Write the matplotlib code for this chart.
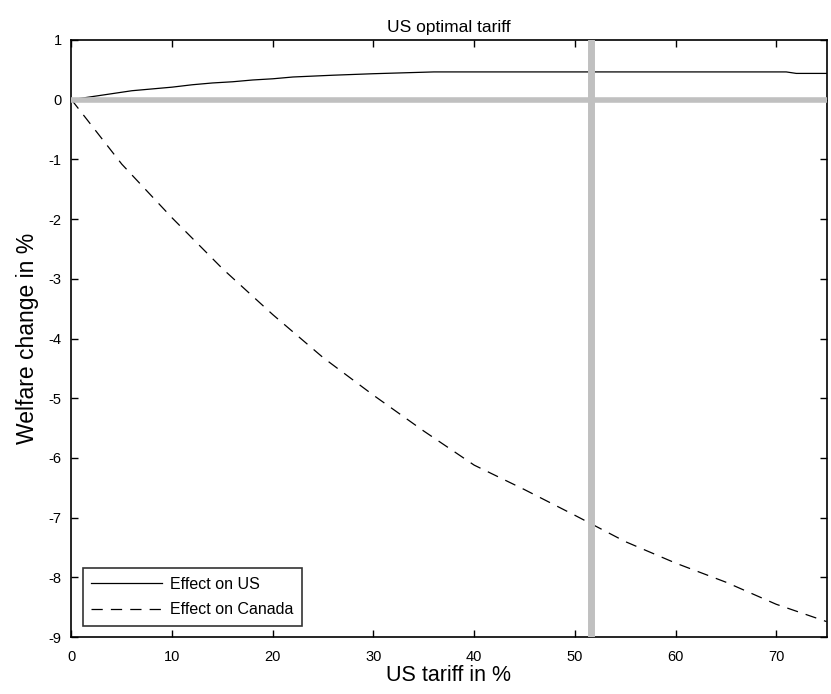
"""US optimal tariff: welfare effects on US and Canada vs. US tariff level."""
import matplotlib
matplotlib.use("Agg")
import matplotlib.pyplot as plt

plt.rcParams["font.family"] = ["Liberation Sans", "DejaVu Sans"]
plt.rcParams["axes.unicode_minus"] = False

# welfare change (%)
us_tariff = [0, 2, 4, 6, 8, 10, 12, 14, 16, 18, 20, 22, 26, 30, 36, 50, 60, 71, 72, 75]
effect_us = [0.0, 0.05, 0.10, 0.15, 0.18, 0.21, 0.25, 0.28, 0.30, 0.33, 0.35, 0.38,
             0.41, 0.435, 0.465, 0.465, 0.465, 0.465, 0.44, 0.44]

ca_tariff = [0, 5, 10, 15, 20, 25, 30, 35, 40, 45, 50, 55, 60, 65, 70, 75]
effect_canada = [0.0, -1.08, -1.98, -2.83, -3.60, -4.32, -4.95, -5.55, -6.12, -6.53,
                 -6.96, -7.40, -7.76, -8.08, -8.45, -8.74]

optimal_tariff = 51.6

fig = plt.figure(figsize=(8.31, 6.94), dpi=100)
ax = fig.add_axes([0.086, 0.082, 0.9086, 0.8604])

ax.plot(us_tariff, effect_us, color="black", lw=0.9, label="Effect on US")
ax.plot(ca_tariff, effect_canada, color="black", lw=0.9, ls=(0, (9, 6.5)),
        label="Effect on Canada")

# reference lines drawn over the curves
ax.axhline(0, color="#c0c0c0", lw=4, zorder=3)
ax.axvline(optimal_tariff, color="#c0c0c0", lw=5, zorder=3)

ax.set_xlim(0, 75)
ax.set_ylim(-9, 1)
ax.set_xticks(range(0, 80, 10))
ax.set_yticks(range(-9, 2))
ax.tick_params(direction="in", top=True, right=True, length=5, width=1,
               labelsize=10.5)
ax.tick_params(axis="x", pad=9)
ax.tick_params(axis="y", pad=7)
for s in ax.spines.values():
    s.set_linewidth(1.2)

ax.set_xlabel("US tariff in %", fontsize=15.5, labelpad=1)
ax.set_ylabel("Welfare change in %", fontsize=16.5, labelpad=7)
ax.set_title("US optimal tariff", fontsize=12.5, pad=6)

leg = ax.legend(loc="lower left", fontsize=11.5, frameon=True, fancybox=False,
                edgecolor="black", handlelength=4.4, handletextpad=0.5,
                borderaxespad=0.7, labelspacing=0.65, borderpad=0.55)
leg.get_frame().set_linewidth(1.2)

fig.savefig("out.png", dpi=100)
print("Saved figure to out.png")
